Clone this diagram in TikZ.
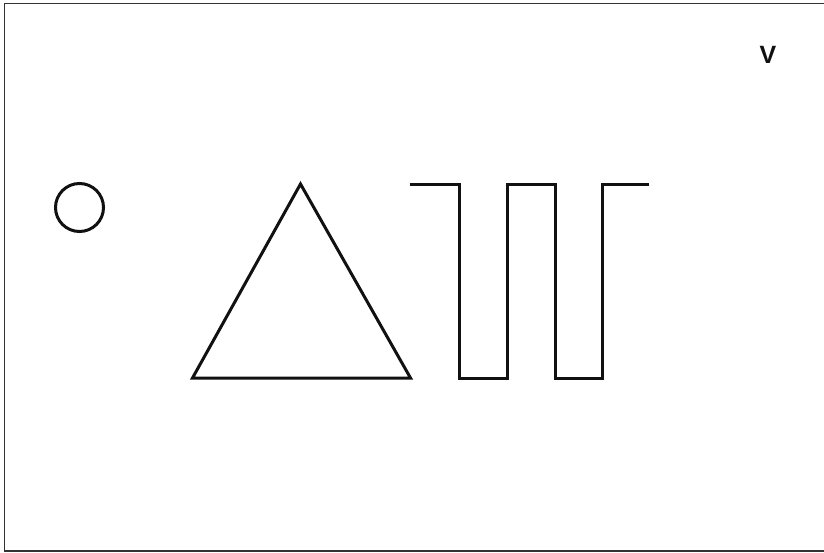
\documentclass[tikz,border=0pt]{standalone}
\usepackage{tikz}
\usetikzlibrary{positioning}
\usepackage{xcolor}
\usepackage{fontspec}
\setmainfont{Liberation Sans}
\definecolor{ink}{HTML}{111111}
\definecolor{frameink}{HTML}{333333}
\tikzset{
  every node/.style={text=ink},
  frameline/.style={draw=frameink,line width=1.3pt},
  figline/.style={draw=ink,line width=3pt,line join=miter},
  ring/.style={circle,draw=ink,line width=3pt,minimum size=48pt,inner sep=0pt},
  tag/.style={font=\bfseries\fontsize{25}{25}\selectfont,inner sep=0pt},
}
\begin{document}
\begin{tikzpicture}[x=1pt,y=-1pt]
\useasboundingbox (0,0) rectangle (824,553);
% frame, open on the right
\draw[frameline] (824,3.5) -- (4.5,3.5) -- (4.5,551) -- (824,551);
% circle
\node[ring] (dot) at (79.5,207.5) {};
% triangle
\coordinate (tl) at (192.5,378);
\coordinate (tt) at (300.5,184);
\coordinate (tr) at (410.5,378);
\draw[figline] (tl) -- (tt) -- (tr) -- cycle;
% square wave
\draw[figline] (409.5,184.5) -- (459.5,184.5) -- (459.5,378.5) -- (507.5,378.5)
  -- (507.5,184.5) -- (555,184.5) -- (555,378.5) -- (602,378.5)
  -- (602,184.5) -- (648.5,184.5);
% label
\node[tag] (vlabel) at (768,55) {V};
\end{tikzpicture}
\end{document}
